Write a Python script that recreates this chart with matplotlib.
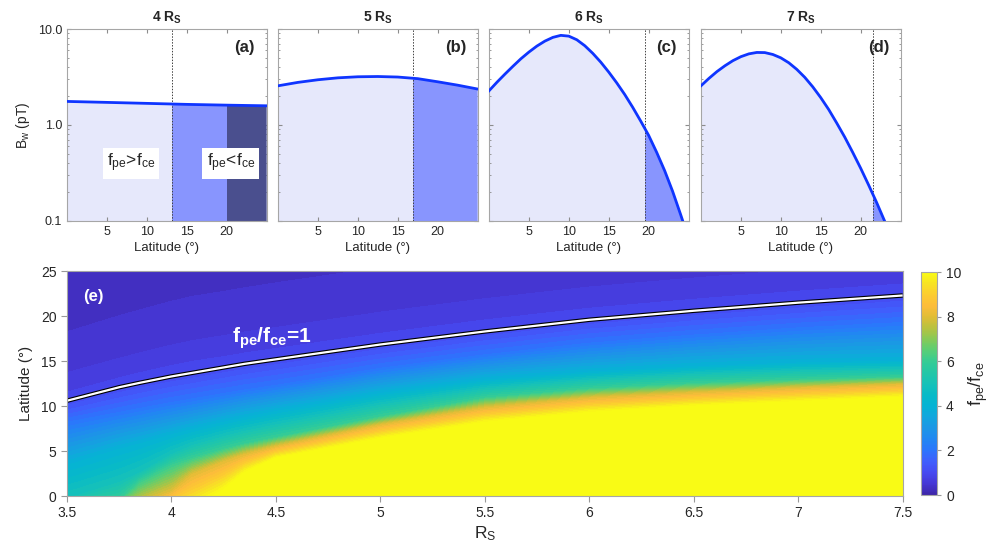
import numpy as np
import matplotlib
matplotlib.use("Agg")
import matplotlib.pyplot as plt
from matplotlib.colors import LinearSegmentedColormap, Normalize
from matplotlib.cm import ScalarMappable
from matplotlib.ticker import FixedLocator, LogLocator, NullFormatter, FormatStrFormatter

plt.rcParams['font.family'] = ['Liberation Sans', 'DejaVu Sans']
plt.rcParams['mathtext.fontset'] = 'custom'
plt.rcParams['mathtext.rm'] = 'Liberation Sans'
plt.rcParams['mathtext.it'] = 'Liberation Sans:italic'
plt.rcParams['mathtext.bf'] = 'Liberation Sans:bold'
plt.rcParams['axes.edgecolor'] = '0.65'
plt.rcParams['text.color'] = '0.15'
plt.rcParams['axes.labelcolor'] = '0.15'
plt.rcParams['xtick.color'] = '0.15'
plt.rcParams['ytick.color'] = '0.15'

# ---- top panels: wave amplitude vs latitude ----
distances = ['4', '5', '6', '7']
tags = ['(a)', '(b)', '(c)', '(d)']

lat_a = [0, 5, 10, 15, 20, 25]
bw_a = [1.76, 1.72, 1.68, 1.64, 1.61, 1.585]

lat_b = [0, 2.5, 5, 7.5, 10, 12.5, 15, 17.5, 20, 22.5, 25]
bw_b = [2.56, 2.78, 2.96, 3.1, 3.18, 3.2, 3.16, 3.04, 2.82, 2.6, 2.37]

lat_c = list(range(0, 26))
bw_c = [2.27, 2.79, 3.39, 4.09, 4.90, 5.75, 6.64, 7.48, 8.18, 8.59, 8.43, 7.73, 6.70,
        5.58, 4.52, 3.56, 2.75, 2.08, 1.53, 1.10, 0.78, 0.52, 0.335, 0.204, 0.117, 0.066]

lat_d = list(range(0, 26))
bw_d = [2.56, 3.06, 3.60, 4.14, 4.68, 5.15, 5.51, 5.70, 5.68, 5.43, 5.01, 4.45, 3.80,
        3.14, 2.50, 1.93, 1.45, 1.05, 0.75, 0.52, 0.355, 0.237, 0.156, 0.100, 0.063, 0.039]

# latitude where fpe = fce for each distance
cutoff_lat = [13.1, 16.9, 19.6, 21.5]
dark_start_a = 20.0

# ---- bottom panel: fpe/fce map, given as the latitude of each ratio level ----
r_cols = [3.5, 3.75, 3.85, 4.0, 4.1, 4.25, 4.35, 4.5, 5.0, 5.5, 6.0, 6.5, 7.0, 7.5]
ratio_levels = [0.1, 0.3, 0.5, 0.75, 1.0, 1.5, 2.0, 3.0, 4.0, 5.0, 6.0, 8.0, 10.0, 60.0]
level_lat = [
    [40.0, 40.0, 40.0, 40.0, 40.0, 40.0, 40.0, 40.0, 40.0, 40.0, 40.0, 40.0, 40.0, 40.0],
    [21.5, 23.5, 24.2, 25.2, 25.8, 26.3, 26.7, 27.3, 29.0, 30.5, 32.0, 33.0, 34.0, 35.0],
    [15.0, 16.6, 17.2, 18.1, 18.6, 19.2, 19.6, 20.1, 21.8, 23.3, 24.6, 25.6, 26.5, 27.3],
    [11.8, 13.4, 14.0, 14.8, 15.3, 15.8, 16.2, 16.7, 18.4, 19.9, 21.2, 22.2, 23.1, 23.9],
    [10.6, 12.1, 12.6, 13.3, 13.7, 14.3, 14.7, 15.2, 16.85, 18.3, 19.6, 20.6, 21.5, 22.3],
    [9.3, 10.6, 11.1, 11.8, 12.2, 12.8, 13.2, 13.7, 15.5, 17.0, 18.3, 19.2, 20.0, 20.7],
    [8.2, 9.3, 9.75, 10.4, 10.8, 11.4, 11.8, 12.3, 14.2, 15.7, 17.0, 17.9, 18.7, 19.3],
    [5.8, 7.3, 7.8, 8.6, 9.1, 9.8, 10.3, 10.9, 12.8, 14.3, 15.4, 16.2, 16.8, 17.2],
    [3.4, 5.2, 5.8, 6.8, 7.4, 8.2, 8.7, 9.4, 11.4, 12.9, 13.8, 14.4, 14.8, 15.0],
    [-0.3, 1.5, 2.6, 4.6, 5.6, 6.6, 7.2, 7.9, 10.1, 11.9, 12.9, 13.5, 13.9, 14.1],
    [-1.5, -0.5, 1.6, 3.4, 4.2, 5.2, 5.8, 6.5, 8.8, 10.9, 11.9, 12.5, 12.9, 13.2],
    [-3.0, -1.5, -0.8, 0.5, 2.4, 3.8, 4.6, 5.5, 7.9, 9.8, 10.9, 11.5, 12.0, 12.4],
    [-4.5, -3.0, -2.3, -1.5, -1.2, 0.7, 2.6, 4.2, 6.4, 8.2, 9.3, 10.0, 10.5, 11.0],
    [-10.0, -10.0, -10.0, -10.0, -10.0, -10.0, -10.0, -10.0, -10.0, -10.0, -10.0, -10.0, -10.0, -10.0],
]
# fpe/fce = 1 label
label_r, label_lat = 4.29, 17.0

light = '#e6e8fb'
medium = '#8895fe'
dark = '#4a4f8e'
line_blue = '#0f35ff'

parula = LinearSegmentedColormap.from_list('parula_like', [
    (0.000, (0.2422, 0.1504, 0.6603)),
    (0.050, (0.2717, 0.2154, 0.8350)),
    (0.100, (0.2773, 0.2900, 0.9460)),
    (0.150, (0.2500, 0.3700, 0.9900)),
    (0.200, (0.1700, 0.4600, 0.9900)),
    (0.250, (0.1300, 0.5300, 0.9500)),
    (0.300, (0.1100, 0.5900, 0.9000)),
    (0.350, (0.0700, 0.6500, 0.8700)),
    (0.400, (0.0200, 0.7000, 0.8300)),
    (0.450, (0.0300, 0.7300, 0.7800)),
    (0.500, (0.0900, 0.7600, 0.7200)),
    (0.550, (0.1400, 0.7800, 0.6500)),
    (0.600, (0.2100, 0.8000, 0.5800)),
    (0.650, (0.3500, 0.8100, 0.4600)),
    (0.700, (0.5300, 0.7900, 0.3400)),
    (0.750, (0.7200, 0.7600, 0.2500)),
    (0.800, (0.8800, 0.7400, 0.2100)),
    (0.850, (0.9900, 0.7400, 0.2300)),
    (0.900, (0.9900, 0.8000, 0.1900)),
    (0.950, (0.9700, 0.8900, 0.1400)),
    (1.000, (0.9769, 0.9839, 0.0805)),
])
parula.set_over((0.9769, 0.9839, 0.0805))

fig = plt.figure(figsize=(10.08, 5.58), dpi=100)

top_lefts = [0.0665, 0.2758, 0.4851, 0.6954]
curves = [(lat_a, bw_a), (lat_b, bw_b), (lat_c, bw_c), (lat_d, bw_d)]

for i in range(4):
    ax = fig.add_axes([top_lefts[i], 0.604, 0.198, 0.344])
    lat, bw = curves[i]
    ax.set_yscale('log')
    under = ax.fill_between(lat, 0.01, bw, color=light, lw=0, zorder=1)
    spans = [(cutoff_lat[i], 25, medium)]
    if i == 0:
        spans = [(cutoff_lat[i], dark_start_a, medium), (dark_start_a, 25, dark)]
    for lo, hi, c in spans:
        sp = ax.axvspan(lo, hi, color=c, lw=0, zorder=2)
        sp.set_clip_path(under.get_paths()[0], under.get_transform())
    ax.plot(lat, bw, color=line_blue, lw=2, zorder=4)
    ax.axvline(cutoff_lat[i], color='0.25', lw=0.7, ls=(0, (1.5, 1.5)), zorder=3)
    ax.set_xlim(0, 25)
    ax.set_ylim(0.1, 10)
    ax.xaxis.set_major_locator(FixedLocator([5, 10, 15, 20]))
    ax.yaxis.set_major_locator(FixedLocator([0.1, 1, 10]))
    ax.yaxis.set_minor_locator(LogLocator(base=10, subs=np.arange(2, 10)))
    ax.yaxis.set_minor_formatter(NullFormatter())
    ax.tick_params(which='both', direction='in', top=True, right=True, labelsize=9,
                   color='0.55')
    ax.tick_params(which='major', length=3)
    ax.tick_params(which='minor', length=1.6)
    if i == 0:
        ax.yaxis.set_major_formatter(FormatStrFormatter('%.1f'))
        ax.set_ylabel(r'$\mathrm{B_w}$ (pT)', fontsize=10, labelpad=4)
        ax.text(8.0, 0.40, r'$\mathrm{f_{pe}}$>$\mathrm{f_{ce}}$', fontsize=12.5,
                ha='center', va='center', zorder=5,
                bbox=dict(facecolor='white', edgecolor='none', pad=3))
        ax.text(20.5, 0.40, r'$\mathrm{f_{pe}}$<$\mathrm{f_{ce}}$', fontsize=12.5,
                ha='center', va='center', zorder=5,
                bbox=dict(facecolor='white', edgecolor='none', pad=3))
    else:
        ax.set_yticklabels([])
    ax.set_xlabel('Latitude (°)', fontsize=9.5, labelpad=3)
    ax.set_title(r'$\mathbf{%s\ R_S}$' % distances[i], fontsize=10, pad=5)
    ax.text(0.89, 0.905, tags[i], transform=ax.transAxes, fontsize=12,
            fontweight='bold', ha='center', va='center', zorder=5)

# ---- bottom map ----
axe = fig.add_axes([0.0665, 0.111, 0.829, 0.403])
R = np.tile(np.array(r_cols), (len(ratio_levels), 1))
L = np.array(level_lat)
Z = np.tile(np.array(ratio_levels)[:, None], (1, len(r_cols)))
levels = np.linspace(0, 10, 51)
axe.contourf(R, L, Z, levels=levels, cmap=parula, extend='max')
axe.contour(R, L, Z, levels=[1], colors='black', linewidths=3.2)
axe.contour(R, L, Z, levels=[1], colors='white', linewidths=1.6)
axe.text(label_r, label_lat, r'$\mathbf{f_{pe}/f_{ce}}$=1', color='white',
         fontsize=15, fontweight='bold', ha='left', va='baseline')
axe.text(0.031, 0.889, '(e)', transform=axe.transAxes, color='white',
         fontsize=12, fontweight='bold', ha='center', va='center')
axe.set_xlim(3.5, 7.5)
axe.set_ylim(0, 25)
axe.set_xticks([3.5, 4, 4.5, 5, 5.5, 6, 6.5, 7, 7.5])
axe.set_xticklabels(['3.5', '4', '4.5', '5', '5.5', '6', '6.5', '7', '7.5'])
axe.set_yticks([0, 5, 10, 15, 20, 25])
axe.tick_params(direction='out', labelsize=10, color='0.6', length=4)
axe.set_xlabel(r'$\mathrm{R_S}$', fontsize=12.5, labelpad=3)
axe.set_ylabel('Latitude (°)', fontsize=11, labelpad=6)

cax = fig.add_axes([0.9137, 0.1129, 0.0159, 0.3996])
cb = fig.colorbar(ScalarMappable(norm=Normalize(0, 10), cmap=parula), cax=cax)
cb.set_ticks([0, 2, 4, 6, 8, 10])
cb.ax.tick_params(labelsize=10, color='0.6', length=3, direction='out')
cb.outline.set_edgecolor('0.65')
cb.set_label(r'$\mathrm{f_{pe}/f_{ce}}$', fontsize=13, labelpad=4)

fig.savefig('out.png', dpi=100)
